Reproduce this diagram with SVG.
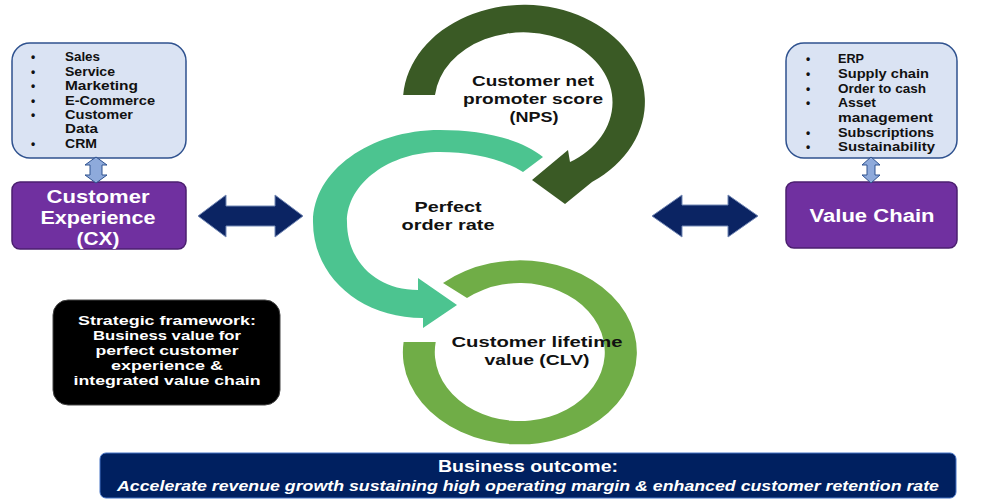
<svg xmlns="http://www.w3.org/2000/svg" width="986" height="500" viewBox="0 0 986 500">
<style>
text{font-family:"Liberation Sans",Arial,sans-serif;font-weight:700}
.list{fill:#dae3f3;stroke:#2f528f;stroke-width:1.5}
.lt{font-size:12px;fill:#111}
.purple{fill:#7030a0;stroke:#4b1f6f;stroke-width:1.5}
.pt{font-size:18px;fill:#fff;text-anchor:middle}
.vdbl{fill:#8eaadb;stroke:#2f528f;stroke-width:1}
.hdbl{fill:#0b2463;stroke:#7388b5;stroke-width:1}
.lbl{font-size:15.5px;fill:#111;text-anchor:middle}
.wt{fill:#fff;text-anchor:middle}
</style>
<rect width="986" height="500" fill="#fff"/>

<g id="cx-list">
<rect class="list" x="12" y="43" width="174" height="115" rx="18"/>
<g class="lt">
<text x="31" y="61">•</text><text x="65" y="61" textLength="35" lengthAdjust="spacingAndGlyphs">Sales</text>
<text x="31" y="75.5">•</text><text x="65" y="75.5" textLength="50" lengthAdjust="spacingAndGlyphs">Service</text>
<text x="31" y="90">•</text><text x="65" y="90" textLength="73" lengthAdjust="spacingAndGlyphs">Marketing</text>
<text x="31" y="104.5">•</text><text x="65" y="104.5" textLength="90" lengthAdjust="spacingAndGlyphs">E-Commerce</text>
<text x="31" y="119">•</text><text x="65" y="119" textLength="68" lengthAdjust="spacingAndGlyphs">Customer</text>
<text x="65" y="133" textLength="33" lengthAdjust="spacingAndGlyphs">Data</text>
<text x="31" y="147.5">•</text><text x="65" y="147.5" textLength="32" lengthAdjust="spacingAndGlyphs">CRM</text>
</g>
</g>

<g id="vc-list">
<rect class="list" x="786" y="43" width="171" height="115" rx="18"/>
<g class="lt">
<text x="806" y="63">•</text><text x="838" y="63" textLength="26" lengthAdjust="spacingAndGlyphs">ERP</text>
<text x="806" y="78">•</text><text x="838" y="78" textLength="91" lengthAdjust="spacingAndGlyphs">Supply chain</text>
<text x="806" y="93">•</text><text x="838" y="93" textLength="88" lengthAdjust="spacingAndGlyphs">Order to cash</text>
<text x="806" y="107">•</text><text x="838" y="107" textLength="38" lengthAdjust="spacingAndGlyphs">Asset</text>
<text x="838" y="122" textLength="95" lengthAdjust="spacingAndGlyphs">management</text>
<text x="806" y="137">•</text><text x="838" y="137" textLength="96" lengthAdjust="spacingAndGlyphs">Subscriptions</text>
<text x="806" y="151">•</text><text x="838" y="151" textLength="97" lengthAdjust="spacingAndGlyphs">Sustainability</text>
</g>
</g>

<g id="cx">
<rect class="purple" x="12" y="182" width="174" height="67" rx="8"/>
<text class="pt" x="98" y="203" textLength="103" lengthAdjust="spacingAndGlyphs">Customer</text>
<text class="pt" x="98" y="224" textLength="115" lengthAdjust="spacingAndGlyphs">Experience</text>
<text class="pt" x="98" y="245" textLength="43" lengthAdjust="spacingAndGlyphs">(CX)</text>
</g>

<g id="value-chain">
<rect class="purple" x="786" y="182" width="171" height="66" rx="8"/>
<text class="pt" x="872" y="222" textLength="125" lengthAdjust="spacingAndGlyphs">Value Chain</text>
</g>

<g id="perfect-order">
<path fill="#4cc490" d="M543 157 C520 138 480 130 440 130 C370 130 313 171 313 222 C313 276 360 318 423 318 L423 328 L457 305 L418 278 L418 290 C375 290 347 260 347 222 C347 183 390 152 440 152 C470 152 500 158 523 172 Z"/>
<text class="lbl" x="448" y="212" textLength="67" lengthAdjust="spacingAndGlyphs">Perfect</text>
<text class="lbl" x="448" y="230" textLength="93" lengthAdjust="spacingAndGlyphs">order rate</text>
</g>

<g id="clv">
<path fill="#70ad47" d="M403.6 342 A117 92 0 1 0 443 283 L467 298 A85 69 0 1 1 435.7 342 Z"/>
<text class="lbl" x="537" y="347" textLength="171" lengthAdjust="spacingAndGlyphs">Customer lifetime</text>
<text class="lbl" x="537" y="365" textLength="105" lengthAdjust="spacingAndGlyphs">value (CLV)</text>
</g>

<g id="nps">
<path fill="#3a5a25" d="M592 182 A121 97 0 1 0 403.2 95 L435 95 A89 70 0 1 1 570 162 L568 150 L532 180 L565 204 Z"/>
<text class="lbl" x="533" y="86" textLength="122" lengthAdjust="spacingAndGlyphs">Customer net</text>
<text class="lbl" x="533" y="104" textLength="140" lengthAdjust="spacingAndGlyphs">promoter score</text>
<text class="lbl" x="534" y="122" textLength="49" lengthAdjust="spacingAndGlyphs">(NPS)</text>
</g>

<g id="strategic">
<rect x="53" y="300" width="227" height="105" rx="15" fill="#000" stroke="#444"/>
<g class="wt" font-size="13px">
<text x="167" y="325" textLength="178" lengthAdjust="spacingAndGlyphs">Strategic framework:</text>
<text x="167" y="340" textLength="148" lengthAdjust="spacingAndGlyphs">Business value for</text>
<text x="167" y="355" textLength="143" lengthAdjust="spacingAndGlyphs">perfect customer</text>
<text x="167" y="370" textLength="112" lengthAdjust="spacingAndGlyphs">experience &amp;</text>
<text x="167" y="385" textLength="187" lengthAdjust="spacingAndGlyphs">integrated value chain</text>
</g>
</g>

<g id="outcome">
<rect x="100" y="453" width="856" height="45" rx="6" fill="#002060" stroke="#4472c4"/>
<text class="wt" x="528" y="472" font-size="16px" textLength="180" lengthAdjust="spacingAndGlyphs">Business outcome:</text>
<text class="wt" x="528" y="491" font-size="15px" font-style="italic" textLength="822" lengthAdjust="spacingAndGlyphs">Accelerate revenue growth sustaining high operating margin &amp; enhanced customer retention rate</text>
</g>

<g id="connectors">
<polygon class="vdbl" points="96,157 107,165 102,165 102,175 107,175 96,183 85,175 90,175 90,165 85,165"/>
<polygon class="vdbl" points="871,157 880,165 875,165 875,175 880,175 871,183 862,175 867,175 867,165 862,165"/>
<polygon class="hdbl" points="198,216 226,195 226,206 275,206 275,195 303,216 275,237 275,226 226,226 226,237"/>
<polygon class="hdbl" points="652,216 682,195 682,205 728,205 728,195 758,216 728,237 728,226 682,226 682,237"/>
</g>
</svg>
